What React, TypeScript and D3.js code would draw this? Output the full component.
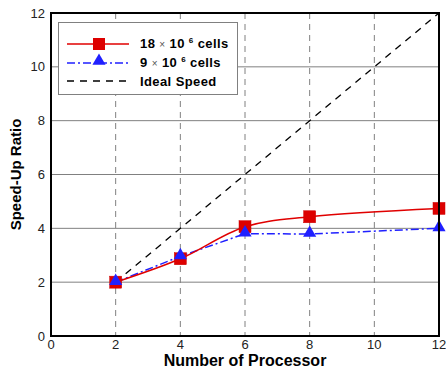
import React from "react";
import * as d3 from "d3";

const processors = [2, 4, 6, 8, 12];
const cells18 = [2.0, 2.87, 4.06, 4.43, 4.74];
const cells9 = [2.0, 2.96, 3.8, 3.79, 4.0];
const idealX = [2, 12];
const idealY = [2, 12];
const xTicks = [0, 2, 4, 6, 8, 10, 12];
const yTicks = [0, 2, 4, 6, 8, 10, 12];

export default function App() {
  const W = 446, H = 372;
  const L = 51, R = 439, T = 13, B = 336;
  const x = d3.scaleLinear().domain([0, 12]).range([L, R]);
  const y = d3.scaleLinear().domain([0, 12]).range([B, T]);
  const line = d3.line<[number, number]>().x(d => x(d[0])).y(d => y(d[1])).curve(d3.curveCatmullRom.alpha(0.5));
  const straight = d3.line<[number, number]>().x(d => x(d[0])).y(d => y(d[1]));
  const red = processors.map((p, i) => [p, cells18[i]] as [number, number]);
  const blue = processors.map((p, i) => [p, cells9[i]] as [number, number]);
  const ideal = idealX.map((p, i) => [p, idealY[i]] as [number, number]);
  const tri = d3.symbol().type(d3.symbolTriangle).size(75)();
  const font = "Arial, 'Liberation Sans', sans-serif";
  return (
    <svg width={W} height={H} style={{ position: "absolute", left: 0, top: 0 }} fontFamily={font}>
      <rect width={W} height={H} fill="#fff" />
      {yTicks.filter(t => t > 0 && t < 12).map(t => (
        <line key={"h" + t} x1={L} x2={R} y1={y(t)} y2={y(t)} stroke="#808080" strokeWidth={1} />
      ))}
      {xTicks.filter(t => t > 0 && t < 12).map(t => (
        <line key={"v" + t} x1={x(t)} x2={x(t)} y1={T} y2={B} stroke="#808080" strokeWidth={1} strokeDasharray="6,5" />
      ))}
      <path d={straight(ideal) || ""} fill="none" stroke="#000" strokeWidth={1.3} strokeDasharray="7,6" />
      <path d={straight(blue) || ""} fill="none" stroke="#2020ff" strokeWidth={1.5} strokeDasharray="8,3,2,3" />
      <path d={line(red) || ""} fill="none" stroke="#e00000" strokeWidth={1.5} />
      {red.map((d, i) => (
        <rect key={"r" + i} x={x(d[0]) - 6} y={y(d[1]) - 6} width={12} height={12} fill="#dd0000" stroke="#cc0000" strokeWidth={0.5} />
      ))}
      {blue.map((d, i) => (
        <path key={"b" + i} d={tri || ""} transform={`translate(${x(d[0])},${y(d[1]) - 1})`} fill="#2020ff" />
      ))}
      <rect x={L} y={T} width={R - L} height={B - T} fill="none" stroke="#000" strokeWidth={2} />
      {yTicks.map(t => (
        <text key={"yt" + t} x={L - 6} y={y(t)} dy="0.35em" textAnchor="end" fontSize={13} fill="#222">{t}</text>
      ))}
      {xTicks.map(t => (
        <text key={"xt" + t} x={x(t)} y={349} textAnchor="middle" fontSize={13} fill="#222">{t}</text>
      ))}
      <text x={245} y={366} textAnchor="middle" fontSize={16} fontWeight="bold">Number of Processor</text>
      <text transform={`translate(21,${(T + B) / 2}) rotate(-90)`} textAnchor="middle" fontSize={15} fontWeight="bold">Speed-Up Ratio</text>
      <g>
        <rect x={58.5} y={22.5} width={179} height={72} fill="#fff" stroke="#808080" strokeWidth={1} />
        <line x1={67} x2={129} y1={44} y2={44} stroke="#e00000" strokeWidth={1.5} />
        <rect x={93} y={38} width={12} height={12} fill="#dd0000" />
        <text x={140} y={48} fontSize={13} fontWeight="bold" letterSpacing={0.4}>18 <tspan fontWeight="normal" fontSize={10} fill="#555">×</tspan> 10 <tspan fontSize={8} dy={-5}>6</tspan><tspan dy={5}> cells</tspan></text>
        <line x1={67} x2={129} y1={63} y2={63} stroke="#2020ff" strokeWidth={1.5} strokeDasharray="8,3,2,3" />
        <path d={tri || ""} transform={`translate(99,61)`} fill="#2020ff" />
        <text x={140} y={67} fontSize={13} fontWeight="bold" letterSpacing={0.4}>9 <tspan fontWeight="normal" fontSize={10} fill="#555">×</tspan> 10 <tspan fontSize={8} dy={-5}>6</tspan><tspan dy={5}> cells</tspan></text>
        <line x1={67} x2={129} y1={81} y2={81} stroke="#000" strokeWidth={1.3} strokeDasharray="7,6" />
        <text x={140} y={85.5} fontSize={13} fontWeight="bold" letterSpacing={0.4}>Ideal Speed</text>
      </g>
    </svg>
  );
}
